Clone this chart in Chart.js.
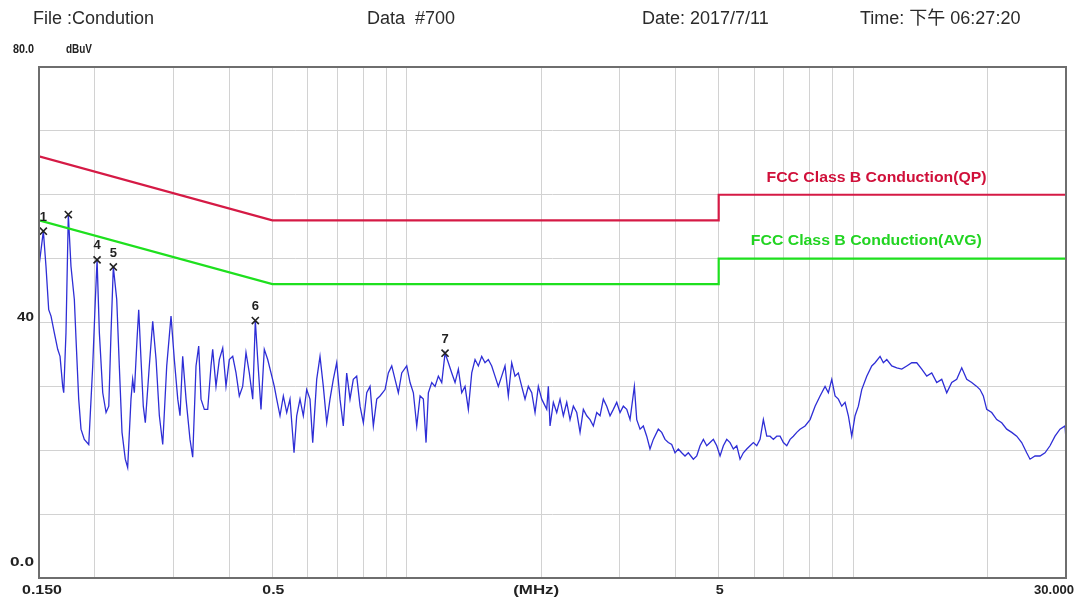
<!DOCTYPE html>
<html>
<head>
<meta charset="utf-8">
<script src="https://cdn.jsdelivr.net/npm/chart.js@4.4.1/dist/chart.umd.min.js"></script>
<style>
  html, body { margin: 0; padding: 0; background: #fff; }
  #wrap { position: relative; width: 1076px; height: 604px; overflow: hidden; background: #fff; }
  #c { position: absolute; left: 0; top: 0; }
  .hdr { position: absolute; top: 7px; height: 22px; line-height: 22px; font-family: "Liberation Sans", Arial, "Noto Sans CJK TC", sans-serif; font-size: 18px; color: #2a2a2a; white-space: pre; }
</style>
</head>
<body>
<div id="wrap">
  <canvas id="c" width="1076" height="604"></canvas>
  <div class="hdr" style="left:33px">File :Condution</div>
  <div class="hdr" style="left:367px">Data  #700</div>
  <div class="hdr" style="left:642px">Date: 2017/7/11</div>
  <div class="hdr" style="left:860px">Time: 下午 06:27:20</div>
</div>
<script>
// ---------- data ----------
const gridFreq = [0.15,0.2,0.3,0.4,0.5,0.6,0.7,0.8,0.9,1,2,3,4,5,6,7,8,9,10,20,30];
const yGridStep = 10;

const limitFreq = [0.15, 0.5, 5, 5, 30];
const qpLimit   = [66, 56, 56, 60, 60];
const avgLimit  = [56, 46, 46, 50, 50];

const markerFreq  = [0.1534, 0.1745, 0.2024, 0.2201, 0.4579, 1.2186];
const markerDb    = [54.3, 56.9, 49.8, 48.7, 40.3, 35.2];
const markerLabel = ['1', '', '4', '5', '6', '7'];

const xTickValues = [0.15, 0.5, 5, 30];
const xTickLabels = ['0.150', '0.5', '5', '30.000'];
const yTickValues = [80, 40, 0];
const yTickLabels = ['80.0', '40', '0.0'];

const traceFreq = [
  0.150, 0.1534, 0.1555, 0.1577, 0.1596, 0.1623, 0.1652, 0.1672, 0.1695, 0.1704,
  0.1724, 0.1745, 0.1769, 0.1800, 0.1816, 0.1841, 0.1863, 0.1895, 0.1939, 0.1979,
  0.2006, 0.2024, 0.2048, 0.2084, 0.2120, 0.2150, 0.2175, 0.2201, 0.2240, 0.2270,
  0.2302, 0.2341, 0.2370, 0.2411, 0.2432, 0.2453, 0.2487, 0.2509, 0.2539, 0.2569,
  0.2596, 0.2650, 0.2697, 0.2744, 0.2791, 0.2840, 0.2899, 0.2964, 0.3015, 0.3069,
  0.3105, 0.3148, 0.3203, 0.3269, 0.3315, 0.3372, 0.3419, 0.3460, 0.3520, 0.3582,
  0.3643, 0.3675, 0.3738, 0.3803, 0.3870, 0.3936, 0.4004, 0.4075, 0.4145, 0.4216,
  0.4290, 0.4364, 0.4439, 0.4518, 0.4579, 0.4636, 0.4715, 0.4796, 0.4881, 0.4965,
  0.5050,
  0.5113, 0.5201, 0.5291, 0.5384, 0.5476, 0.5591, 0.5669, 0.5766, 0.5865, 0.5969,
  0.6071, 0.6157, 0.6285, 0.6393, 0.6503, 0.6618, 0.6731, 0.6847, 0.6968, 0.7088,
  0.7209, 0.7337, 0.7463, 0.7591, 0.7725, 0.7860, 0.7995, 0.8136, 0.8276, 0.8418,
  0.8567, 0.8714, 0.8942, 0.9095, 0.9256, 0.9415, 0.9577, 0.9746, 1.0000, 1.0173,
  1.0348, 1.0530, 1.0712, 1.0896, 1.1048, 1.1181, 1.1378, 1.1573, 1.1772, 1.1980,
  1.2186, 1.2396, 1.2614, 1.2831, 1.3052, 1.3282, 1.3510, 1.3742, 1.3985, 1.4226,
  1.4470, 1.4723, 1.4976, 1.5234, 1.5503, 1.5768, 1.6040, 1.6323, 1.6604, 1.6890,
  1.7187, 1.7483, 1.7784, 1.8098, 1.8410, 1.8726, 1.9059, 1.9386, 1.9719, 2.0067,
  2.0592,
  2.0763, 2.0946, 2.1306, 2.1681, 2.2054, 2.2433, 2.2830, 2.3222, 2.3622, 2.4039,
  2.4452, 2.4873, 2.5311, 2.5746, 2.6189, 2.6652, 2.7108, 2.7575, 2.8061, 2.8544,
  2.9034, 2.9547, 3.0056, 3.0573, 3.1113, 3.1647, 3.2361, 3.2759, 3.3323, 3.3891,
  3.4490, 3.5082, 3.5685, 3.6618, 3.7265, 3.7907, 3.8556, 3.9237, 3.9911, 4.0598,
  4.1313, 4.2024, 4.2747, 4.3872, 4.4648, 4.5416, 4.6196, 4.7012, 4.7820, 4.8642,
  4.9500, 5.0352, 5.1218, 5.2122, 5.3018, 5.3930, 5.4882, 5.5826, 5.6786, 5.7789,
  5.8782, 5.9793, 6.0849, 6.1896, 6.2960, 6.4073, 6.5174, 6.6294, 6.7466, 6.8625,
  6.9806, 7.1039, 7.2261, 7.3493, 7.4790, 7.6076, 7.8078, 8.0120, 8.2215, 8.4351,
  8.6553, 8.8041, 8.9597, 9.1136, 9.2703, 9.4341, 9.5963, 9.7613, 9.9333, 10.104,
  10.278, 10.459, 10.733, 11.013, 11.202, 11.496, 11.693, 11.900, 12.211, 12.530,
  12.857, 13.193, 13.538, 13.891, 14.254, 14.626, 15.007, 15.400, 15.801, 16.214,
  16.638, 17.072, 17.518, 17.976, 18.445, 18.927, 19.253, 19.584, 19.930, 20.451,
  20.985, 21.533, 22.095, 22.672, 23.264, 23.871, 24.494, 24.918, 25.569, 26.236,
  26.921, 27.624, 28.346, 29.085, 29.845, 30.000
];

const traceDb = [
  48.8, 54.3, 48.8, 42.0, 41.0, 38.4, 35.8, 34.7, 30.0, 29.0,
  38.4, 56.9, 48.8, 43.6, 37.3, 28.0, 23.3, 21.7, 20.9, 33.2,
  43.6, 49.8, 38.4, 29.0, 25.9, 26.9, 38.4, 48.7, 43.6, 33.2,
  22.8, 18.6, 17.3, 28.0, 31.1, 29.0, 37.3, 42.0, 34.2, 26.9,
  24.3, 33.2, 40.2, 34.2, 25.4, 20.9, 33.2, 41.0, 34.2, 28.0,
  25.4, 34.7, 28.0, 21.7, 18.9, 33.2, 36.3, 28.0, 26.4, 26.4,
  33.2, 35.8, 30.0, 34.2, 36.0, 30.0, 34.2, 34.7, 32.1, 28.5,
  30.0, 35.3, 32.1, 28.0, 40.3, 34.2, 26.4, 35.8, 34.2, 32.1,
  30.0,
  28.0, 25.4, 28.5, 25.9, 28.0, 19.6, 25.4, 28.0, 25.4, 29.5,
  28.0, 21.2, 31.1, 34.7, 30.0, 24.3, 28.0, 31.1, 33.7, 28.0,
  23.8, 32.1, 28.0, 31.1, 31.6, 26.9, 24.3, 29.0, 30.0, 23.8,
  28.0, 28.5, 29.5, 32.1, 33.2, 31.1, 29.0, 32.1, 33.2, 30.6,
  29.0, 23.8, 28.5, 28.0, 21.2, 29.0, 30.6, 30.0, 31.6, 30.6,
  35.2, 33.7, 32.1, 30.6, 32.7, 29.0, 30.0, 26.4, 32.1, 34.2,
  33.2, 34.7, 33.7, 34.2, 33.2, 31.6, 30.0, 31.6, 33.2, 28.5,
  33.7, 31.6, 32.1, 30.0, 28.0, 30.0, 29.0, 25.9, 30.0, 28.0,
  26.4,
  30.0, 23.8, 27.5, 25.9, 28.0, 25.4, 27.5, 24.8, 26.9, 25.9,
  22.8, 26.4, 25.4, 24.8, 23.8, 25.9, 25.4, 28.0, 26.9, 25.4,
  26.4, 27.5, 25.9, 26.9, 26.4, 24.8, 30.0, 24.8, 23.3, 23.8,
  22.2, 20.2, 21.7, 23.3, 22.8, 21.7, 21.2, 20.9, 19.6, 20.2,
  19.6, 19.1, 19.6, 18.6, 19.1, 20.7, 21.7, 20.7, 21.2, 21.7,
  20.7, 19.1, 20.7, 21.7, 21.2, 20.2, 20.7, 18.6, 19.6, 20.2,
  20.7, 21.2, 20.7, 21.7, 24.8, 22.2, 22.2, 21.7, 22.2, 22.2,
  21.2, 20.7, 21.7, 22.2, 22.8, 23.3, 23.8, 24.8, 26.9, 28.5,
  30.0, 29.0, 31.1, 28.5, 28.0, 26.9, 27.5, 25.4, 22.2, 25.4,
  26.9, 29.5, 31.6, 33.2, 33.7, 34.7, 33.7, 34.2, 33.2, 32.9,
  32.7, 33.2, 33.7, 33.7, 32.7, 31.6, 32.1, 30.6, 31.1, 29.0,
  30.6, 31.1, 32.9, 31.1, 30.6, 30.0, 29.5, 28.5, 26.4, 25.9,
  24.8, 24.3, 23.3, 22.8, 22.2, 21.2, 19.6, 18.6, 19.1, 19.1,
  19.6, 20.7, 22.2, 23.3, 23.8, 21.7
];

// ---------- helpers ----------
const FONT = '"Liberation Sans", Arial, sans-serif';
function drawText(ctx, s, x, y, font, color, align, width) {
  ctx.save();
  ctx.font = font;
  ctx.fillStyle = color;
  ctx.textBaseline = 'middle';
  ctx.textAlign = 'left';
  const m = ctx.measureText(s).width;
  const sx = width ? width / m : 1;
  const w = m * sx;
  const left = align === 'center' ? x - w / 2 : (align === 'right' ? x - w : x);
  ctx.translate(left, y);
  ctx.scale(sx, 1);
  ctx.fillText(s, 0, 0);
  ctx.restore();
}

const annotate = {
  id: 'annotate',
  afterDraw(chart) {
    const ctx = chart.ctx;
    const xs = chart.scales.x, ys = chart.scales.y, a = chart.chartArea;
    // frame
    ctx.save();
    ctx.strokeStyle = '#6e6e6e';
    ctx.lineWidth = 2;
    ctx.strokeRect(a.left, a.top, a.right - a.left, a.bottom - a.top);
    ctx.restore();

    const bold = 'bold 12px ' + FONT;
    // y labels
    const yOff = [-17, -5, -15];
    const yW = [21, 17, 24];
    yTickValues.forEach((v, i) => {
      drawText(ctx, yTickLabels[i], 34, ys.getPixelForValue(v) + yOff[i], bold, '#222', 'right', yW[i]);
    });
    drawText(ctx, 'dBuV', 66, ys.getPixelForValue(80) - 17, bold, '#222', 'left', 26);

    // x labels
    const xW = [40, 22, 8, 40];
    xTickValues.forEach((v, i) => {
      const px = xs.getPixelForValue(v);
      const al = i === xTickValues.length - 1 ? 'right' : 'center';
      const xx = i === xTickValues.length - 1 ? px + 8 : px + (i === 0 ? 3 : 1);
      drawText(ctx, xTickLabels[i], xx, a.bottom + 13, bold, '#222', al, xW[i]);
    });
    drawText(ctx, '(MHz)', xs.getPixelForValue(1.95), a.bottom + 13, bold, '#222', 'center', 46);

    // limit labels
    drawText(ctx, 'FCC Class B Conduction(QP)', xs.getPixelForValue(6.4), ys.getPixelForValue(62.6), 'bold 14px ' + FONT, '#d0103a', 'left', 220);
    drawText(ctx, 'FCC Class B Conduction(AVG)', xs.getPixelForValue(5.9), ys.getPixelForValue(52.7), 'bold 14px ' + FONT, '#22d422', 'left', 231);

    // marker numbers
    markerFreq.forEach((f, i) => {
      if (!markerLabel[i]) return;
      drawText(ctx, markerLabel[i], xs.getPixelForValue(f), ys.getPixelForValue(markerDb[i]) - 14, 'bold 13px ' + FONT, '#222', 'center');
    });
  }
};

const pts = (xa, ya) => xa.map((x, i) => ({ x: x, y: ya[i] }));

new Chart(document.getElementById('c'), {
  type: 'line',
  data: {
    datasets: [
      { label: 'Markers', data: pts(markerFreq, markerDb), showLine: false,
        pointStyle: 'crossRot', pointRadius: 5, borderColor: '#222', borderWidth: 1.6,
        backgroundColor: '#222', order: 0 },
      { label: 'Trace', data: pts(traceFreq, traceDb), borderColor: '#2e2ed6',
        borderWidth: 1.3, pointRadius: 0, tension: 0, order: 3 },
      { label: 'QP', data: pts(limitFreq, qpLimit), borderColor: '#d51a45',
        borderWidth: 2.2, pointRadius: 0, tension: 0, order: 2 },
      { label: 'AVG', data: pts(limitFreq, avgLimit), borderColor: '#1ee01e',
        borderWidth: 2.2, pointRadius: 0, tension: 0, order: 1 }
    ]
  },
  options: {
    responsive: false,
    animation: false,
    devicePixelRatio: 1,
    layout: { padding: { left: 39, right: 10, top: 67, bottom: 26 } },
    plugins: { legend: { display: false }, tooltip: { enabled: false }, title: { display: false } },
    scales: {
      x: {
        type: 'logarithmic', min: 0.15, max: 30,
        afterBuildTicks: (ax) => { ax.ticks = gridFreq.map(v => ({ value: v })); },
        ticks: { display: false },
        grid: { color: '#d2d2d2', lineWidth: 1, drawTicks: false },
        border: { display: false }
      },
      y: {
        type: 'linear', min: 0, max: 80,
        ticks: { display: false, stepSize: yGridStep },
        grid: { color: '#d2d2d2', lineWidth: 1, drawTicks: false },
        border: { display: false }
      }
    }
  },
  plugins: [annotate]
});
</script>
</body>
</html>
